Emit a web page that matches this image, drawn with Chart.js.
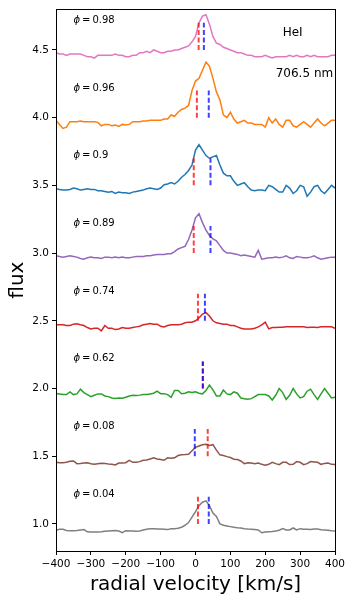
<!DOCTYPE html>
<html>
<head>
<meta charset="utf-8">
<script src="https://cdn.jsdelivr.net/npm/chart.js@4.4.1/dist/chart.umd.min.js"></script>
<style>
  html, body { margin: 0; padding: 0; background: #fff; }
  canvas { display: block; }
</style>
</head>
<body>
<canvas id="lineChart" width="353" height="601"></canvas>
<script>
// radial velocity grid (km/s)
var velocity = [-400,-390,-380,-370,-360,-350,-340,-330,-320,-310,
  -300,-290,-280,-270,-260,-250,-240,-230,-220,-210,
  -200,-190,-180,-170,-160,-150,-140,-130,-120,-110,
  -100,-90,-80,-70,-60,-50,-40,-30,-20,-10,
  0,
  10,20,30,40,50,60,70,80,90,100,
  110,120,130,140,150,160,170,180,190,200,
  210,220,230,240,250,260,270,280,290,300,
  310,320,330,340,350,360,370,380,390,400];

// phases, offsets and spectra (already shifted), top to bottom
var phases = ['0.98', '0.96', '0.9', '0.89', '0.74', '0.62', '0.08', '0.04'];
var offsets = [4.5, 4.0, 3.5, 3.0, 2.5, 2.0, 1.5, 1.0];
var colors = ['#e377c2', '#ff7f0e', '#1f77b4', '#9467bd', '#d62728', '#2ca02c', '#8c564b', '#7f7f7f'];

var flux098 = [4.48,4.47,4.47,4.46,4.47,4.47,4.47,4.47,4.46,4.45,
  4.45,4.44,4.46,4.46,4.46,4.46,4.46,4.47,4.46,4.46,
  4.45,4.45,4.46,4.46,4.48,4.48,4.49,4.48,4.50,4.49,
  4.48,4.48,4.49,4.49,4.50,4.50,4.51,4.52,4.53,4.56,
  4.60,
  4.70,4.75,4.76,4.69,4.60,4.55,4.54,4.52,4.51,4.50,
  4.49,4.48,4.48,4.47,4.46,4.46,4.45,4.45,4.45,4.46,
  4.45,4.44,4.45,4.45,4.45,4.45,4.46,4.45,4.46,4.45,
  4.45,4.46,4.45,4.46,4.45,4.45,4.45,4.45,4.46,4.46];

var flux096 = [3.98,3.95,3.92,3.93,3.97,3.97,3.97,3.975,3.97,3.97,
  3.97,3.97,3.965,3.94,3.95,3.95,3.94,3.945,3.935,3.95,
  3.945,3.95,3.97,3.97,3.97,3.975,3.975,3.98,3.98,3.98,
  3.98,3.99,3.99,4.02,4.01,4.04,4.06,4.07,4.09,4.20,
  4.27,
  4.29,4.35,4.41,4.38,4.29,4.19,4.13,4.02,4.00,4.04,
  3.99,3.96,3.97,3.98,3.96,3.96,3.95,3.95,3.95,3.93,
  4.00,3.96,3.99,3.95,3.93,3.98,3.98,3.94,3.93,3.95,
  3.97,3.95,3.93,3.96,3.99,3.96,3.94,3.96,3.98,3.98];

var flux090 = [3.475,3.47,3.465,3.465,3.47,3.48,3.475,3.465,3.47,3.475,
  3.47,3.47,3.46,3.46,3.455,3.45,3.455,3.44,3.45,3.445,
  3.445,3.44,3.45,3.455,3.46,3.465,3.475,3.48,3.475,3.47,
  3.48,3.505,3.51,3.52,3.51,3.53,3.56,3.58,3.61,3.65,
  3.76,
  3.80,3.76,3.72,3.70,3.71,3.72,3.65,3.59,3.57,3.57,
  3.53,3.50,3.51,3.52,3.49,3.465,3.46,3.465,3.465,3.46,
  3.50,3.49,3.47,3.45,3.45,3.50,3.48,3.44,3.46,3.50,
  3.49,3.42,3.45,3.49,3.50,3.46,3.44,3.47,3.50,3.48];

var flux089 = [2.98,2.975,2.97,2.975,2.98,2.975,2.97,2.96,2.955,2.965,
  2.97,2.965,2.965,2.96,2.97,2.97,2.965,2.97,2.965,2.97,
  2.965,2.965,2.97,2.975,2.975,2.975,2.98,2.98,2.985,2.99,
  2.99,2.99,2.995,2.995,3.01,3.03,3.04,3.05,3.10,3.17,
  3.26,
  3.29,3.225,3.17,3.13,3.105,3.09,3.055,3.02,3.0,3.0,
  2.995,2.99,2.98,2.985,2.98,2.975,2.97,3.02,2.955,2.96,
  2.965,2.965,2.97,2.965,2.97,2.98,2.965,2.96,2.975,2.97,
  2.965,2.965,2.97,2.98,2.965,2.955,2.96,2.965,2.97,2.97];

var flux074 = [2.47,2.47,2.47,2.465,2.465,2.475,2.478,2.47,2.465,2.45,
  2.44,2.445,2.445,2.425,2.465,2.445,2.445,2.435,2.44,2.45,
  2.445,2.445,2.45,2.455,2.46,2.47,2.475,2.48,2.475,2.475,
  2.46,2.455,2.465,2.47,2.47,2.47,2.475,2.485,2.49,2.49,
  2.50,
  2.52,2.55,2.56,2.535,2.50,2.485,2.48,2.475,2.475,2.465,
  2.465,2.455,2.445,2.44,2.44,2.44,2.445,2.455,2.47,2.49,
  2.44,2.45,2.45,2.452,2.452,2.455,2.455,2.455,2.455,2.455,
  2.455,2.45,2.452,2.452,2.45,2.455,2.455,2.455,2.455,2.445];

var flux062 = [1.963,1.96,1.955,1.955,1.975,1.955,1.96,1.995,1.97,1.955,
  1.94,1.95,1.96,1.96,1.945,1.94,1.93,1.926,1.93,1.928,
  1.935,1.945,1.95,1.948,1.951,1.955,1.955,1.96,1.965,1.98,
  1.962,1.962,1.955,1.935,1.985,1.985,1.961,1.965,1.975,1.97,
  1.975,
  1.965,1.96,1.985,2.025,1.99,1.945,1.945,1.988,1.96,1.955,
  1.975,1.965,1.93,1.925,1.92,1.925,1.94,1.955,1.955,1.955,
  1.945,1.915,1.95,2.0,1.97,1.92,1.95,2.0,1.96,1.93,
  1.94,1.98,1.995,1.955,1.92,1.96,2.0,1.965,1.93,1.935];

var flux008 = [1.456,1.452,1.452,1.455,1.463,1.465,1.445,1.447,1.45,1.452,
  1.445,1.44,1.445,1.448,1.447,1.442,1.44,1.436,1.45,1.45,
  1.452,1.47,1.455,1.455,1.46,1.47,1.472,1.48,1.488,1.48,
  1.475,1.47,1.488,1.485,1.488,1.505,1.51,1.512,1.515,1.54,
  1.565,
  1.575,1.585,1.588,1.58,1.585,1.545,1.51,1.505,1.497,1.49,
  1.478,1.475,1.465,1.445,1.452,1.45,1.445,1.45,1.44,1.433,
  1.44,1.455,1.445,1.438,1.455,1.455,1.438,1.44,1.46,1.455,
  1.438,1.445,1.46,1.458,1.455,1.44,1.447,1.45,1.44,1.438];

var flux004 = [0.953,0.96,0.96,0.952,0.95,0.95,0.952,0.955,0.958,0.942,
  0.94,0.94,0.94,0.942,0.945,0.948,0.95,0.952,0.947,0.935,
  0.95,0.948,0.947,0.945,0.948,0.955,0.96,0.965,0.965,0.962,
  0.962,0.96,0.958,0.965,0.965,0.968,0.975,0.99,1.01,1.05,
  1.09,
  1.135,1.16,1.17,1.135,1.08,1.055,1.0,0.99,0.985,0.98,
  0.975,0.972,0.97,0.965,0.962,0.96,0.958,0.955,0.935,0.94,
  0.942,0.944,0.948,0.953,0.965,0.955,0.955,0.97,0.955,0.965,
  0.96,0.96,0.958,0.962,0.962,0.957,0.955,0.953,0.95,0.948];

var spectra = [flux098, flux096, flux090, flux089, flux074, flux062, flux008, flux004];

// dashed marker velocities (km/s), each spans offset .. offset + 0.2
var markerRed = [9, 4, -5, -5, 7, 21, 35, 7];
var markerBlue = [24, 38, 43, 43, 27, 21, -2, 38];
var markerHeight = 0.2;

var yTicks = [1.0, 1.5, 2.0, 2.5, 3.0, 3.5, 4.0, 4.5];

document.addEventListener('DOMContentLoaded', function () {
    var FONT = '"DejaVu Sans", sans-serif';

    var datasets = [];
    spectra.forEach(function (flux, i) {
        datasets.push({
            data: velocity.map(function (v, k) { return { x: v, y: flux[k] }; }),
            borderColor: colors[i],
            borderWidth: 1.5,
            pointRadius: 0,
            fill: false,
            order: 2
        });
    });
    offsets.forEach(function (off, i) {
        datasets.push({
            data: [{ x: markerRed[i], y: off }, { x: markerRed[i], y: off + markerHeight }],
            borderColor: 'rgba(255, 0, 0, 0.75)',
            borderWidth: 2,
            borderDash: [5, 2.5],
            pointRadius: 0,
            order: 1
        });
        datasets.push({
            data: [{ x: markerBlue[i], y: off }, { x: markerBlue[i], y: off + markerHeight }],
            borderColor: 'rgba(0, 0, 255, 0.75)',
            borderWidth: 2,
            borderDash: [5, 2.5],
            pointRadius: 0,
            order: 0
        });
    });

    // frame, phase labels, line annotation and axis titles
    var annotate = {
        id: 'annotate',
        afterDraw: function (chart) {
            var ctx = chart.ctx, a = chart.chartArea;
            var xs = chart.scales.x, ys = chart.scales.y;
            ctx.save();
            ctx.strokeStyle = '#000';
            ctx.lineWidth = 1;
            ctx.strokeRect(Math.round(a.left) + 0.5, Math.round(a.top) + 0.5,
                Math.round(a.right - a.left), Math.round(a.bottom - a.top));

            ctx.fillStyle = '#000';
            ctx.textBaseline = 'alphabetic';
            ctx.textAlign = 'left';
            phases.forEach(function (p, i) {
                var px = xs.getPixelForValue(-350);
                var py = ys.getPixelForValue(offsets[i] + 0.2);
                ctx.font = 'italic 10px ' + FONT;
                ctx.fillText('\u03d5', px, py);
                var w = ctx.measureText('\u03d5').width;
                ctx.font = '10px ' + FONT;
                var ex = px + w + 2;
                ctx.fillText('=', ex, py);
                ctx.fillText(p, ex + ctx.measureText('=').width + 2, py);
            });

            ctx.font = '12px ' + FONT;
            ctx.fillText('HeI', xs.getPixelForValue(250), ys.getPixelForValue(4.6));
            ctx.fillText('706.5 nm', xs.getPixelForValue(230), ys.getPixelForValue(4.3));

            ctx.font = '20px ' + FONT;
            ctx.textAlign = 'center';
            ctx.fillText('radial velocity [km/s]', (a.left + a.right) / 2, 590);
            ctx.translate(23, (a.top + a.bottom) / 2);
            ctx.rotate(-Math.PI / 2);
            ctx.fillText('flux', 0, 0);
            ctx.restore();
        }
    };

    var ctx = document.getElementById('lineChart').getContext('2d');
    var chart = new Chart(ctx, {
        type: 'line',
        data: { datasets: datasets },
        options: {
            responsive: false,
            animation: false,
            devicePixelRatio: 1,
            layout: { padding: { top: 7, right: 18, left: 0, bottom: 0 } },
            plugins: { legend: { display: false }, tooltip: { enabled: false } },
            scales: {
                x: {
                    type: 'linear',
                    min: -400,
                    max: 400,
                    afterFit: function (s) { s.height = 50; },
                    border: { display: false },
                    grid: { drawOnChartArea: false, drawTicks: true, tickLength: 4, color: '#000' },
                    ticks: {
                        stepSize: 100,
                        autoSkip: false,
                        maxRotation: 0,
                        padding: 3,
                        color: '#000',
                        font: { family: FONT, size: 10.5 },
                        callback: function (v) { return v < 0 ? '\u2212' + Math.abs(v) : String(v); }
                    }
                },
                y: {
                    type: 'linear',
                    min: 0.8,
                    max: 4.8,
                    afterFit: function (s) { s.width = 56; },
                    afterBuildTicks: function (s) {
                        s.ticks = yTicks.map(function (v) { return { value: v }; });
                    },
                    border: { display: false },
                    grid: { drawOnChartArea: false, drawTicks: true, tickLength: 4, color: '#000' },
                    ticks: {
                        padding: 3,
                        color: '#000',
                        font: { family: FONT, size: 10.5 },
                        callback: function (v) { return Number(v).toFixed(1); }
                    }
                }
            }
        },
        plugins: [annotate]
    });
});
</script>
</body>
</html>
